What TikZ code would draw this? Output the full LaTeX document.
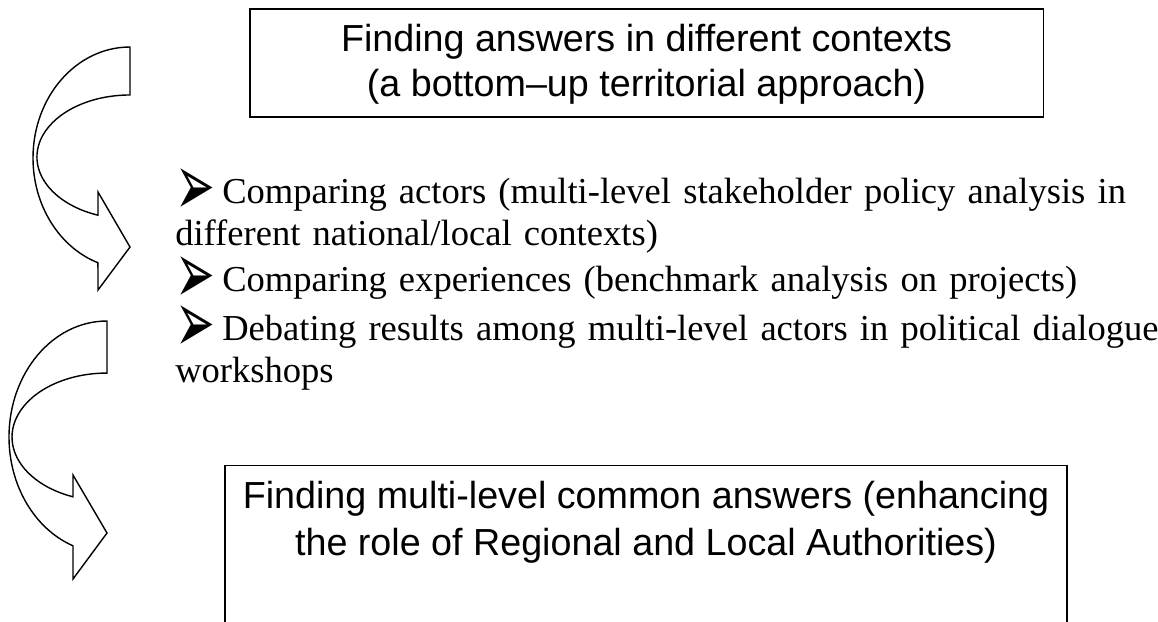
\documentclass[tikz,border=0pt]{standalone}
\usepackage{fontspec}
\setmainfont{Liberation Serif}
\newfontfamily\boxfont{Liberation Sans}
\newfontfamily\bulletfont{DejaVu Sans}

\newcommand{\arrowbullet}{\makebox[1.175cm][l]{\smash{\raisebox{-9pt}{\scalebox{1.3}[2.4]{\bulletfont ➢}}}}}

\tikzset{
    textbox/.style={draw, line width=1pt, align=center, inner xsep=0pt,
        font=\boxfont\fontsize{26.8}{31.5}\selectfont},
    itemtext/.style={anchor=base west, inner sep=0pt, text width=26cm,
        align=left, font=\fontsize{26}{30.5}\selectfont},
    bendarrow/.style={draw, line width=1pt, fill=white, line join=miter}
}

\begin{document}
\begin{tikzpicture}[x=0.025cm, y=-0.025cm]
            \useasboundingbox (0,0) rectangle (1158,621);
            \clip (0,0) rectangle (1158,621);

            \node[textbox, minimum width=19.83cm, minimum height=2.7cm] (Contexts) at (646.5,63) {\rule{0pt}{0.75cm}Finding answers in different contexts\\
                (a bottom–up territorial approach)};

            \node[itemtext] (Actors) at (175,203) {\arrowbullet Comparing actors (multi-level stakeholder policy analysis in\\
                different national/local contexts)};
            \node[itemtext] (Experiences) at (175,291) {\arrowbullet Comparing experiences (benchmark analysis on projects)};
            \node[itemtext] (Debating) at (175,340) {\arrowbullet Debating results among multi-level actors in political dialogue\\
                workshops};

            \node[textbox, anchor=north, minimum width=21.05cm, font=\boxfont\fontsize{26.8}{33.4}\selectfont] (Common Answers) at (646,465) {\rule{0pt}{0.95cm}Finding multi-level common answers (enhancing\\
                the role of Regional and Local Authorities)\rule[-3cm]{0pt}{3cm}};

            % curved arrows on the left
            \draw[bendarrow] (130,47) arc[start angle=270, end angle=109.3, x radius=97, y radius=111]
                -- (98,290) -- (130,247) -- (98,192) -- (98,215.2)
                arc[start angle=110.1, end angle=270, x radius=93, y radius=62] -- cycle;
            \draw[bendarrow] (107,321) arc[start angle=270, end angle=110.3, x radius=98, y radius=116]
                -- (73,579) -- (107,533) -- (73,475) -- (73,496.8)
                arc[start angle=111, end angle=270, x radius=95, y radius=64] -- cycle;
        \end{tikzpicture}
\end{document}
